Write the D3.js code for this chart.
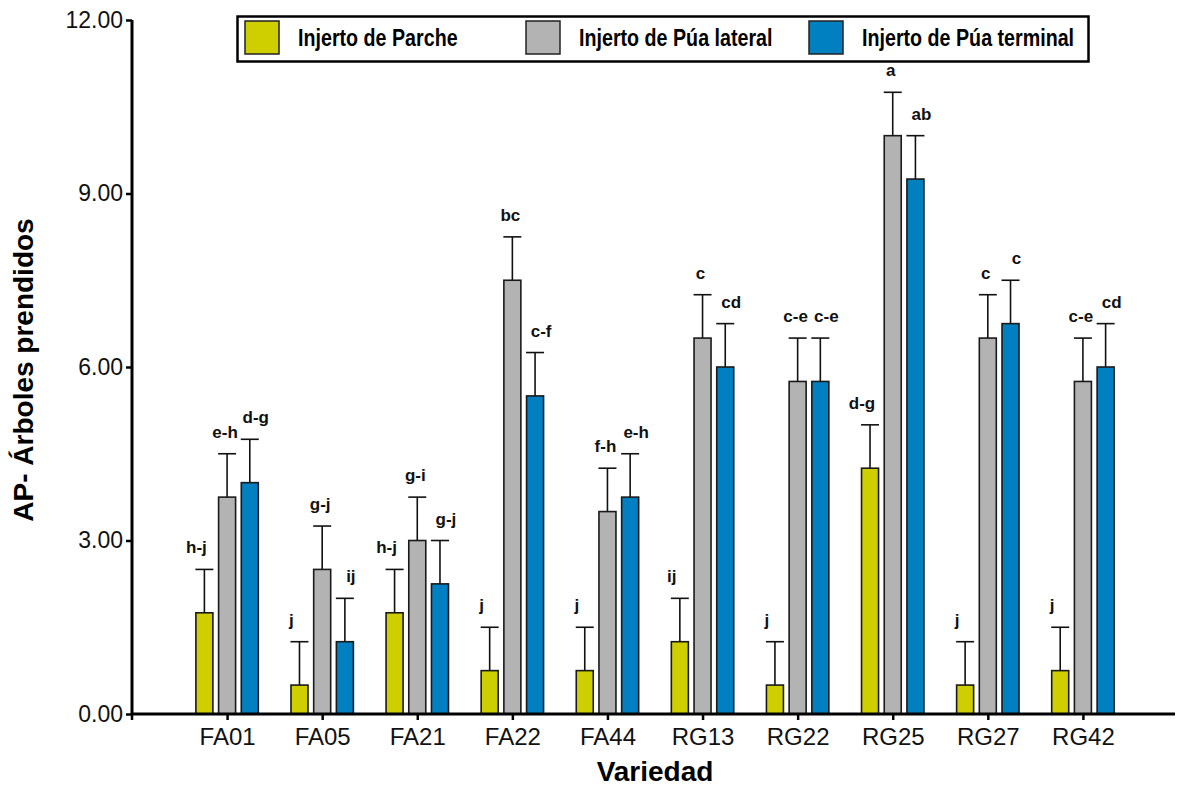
<!DOCTYPE html>
<html>
<head>
<meta charset="utf-8">
<script src="https://cdnjs.cloudflare.com/ajax/libs/d3/7.8.5/d3.min.js"></script>
<style>
  body { margin: 0; background: #fff; }
  text { font-family: "Liberation Sans", Arial, sans-serif; }
</style>
</head>
<body>
<div id="chart-area"></div>
<script>
// data
var categories = ['FA01','FA05','FA21','FA22','FA44','RG13','RG22','RG25','RG27','RG42'];
var seriesNames = ['Injerto de Parche','Injerto de Púa lateral','Injerto de Púa terminal'];

var parche   = [1.75, 0.5, 1.75, 0.75, 0.75, 1.25, 0.5, 4.25, 0.5, 0.75];
var lateral  = [3.75, 2.5, 3.0, 7.5, 3.5, 6.5, 5.75, 10.0, 6.5, 5.75];
var terminal = [4.0, 1.25, 2.25, 5.5, 3.75, 6.0, 5.75, 9.25, 6.75, 6.0];

var errParche   = [0.75, 0.75, 0.75, 0.75, 0.75, 0.75, 0.75, 0.75, 0.75, 0.75];
var errLateral  = [0.75, 0.75, 0.75, 0.75, 0.75, 0.75, 0.75, 0.75, 0.75, 0.75];
var errTerminal = [0.75, 0.75, 0.75, 0.75, 0.75, 0.75, 0.75, 0.75, 0.75, 0.75];

var lblParche   = ['h-j','j','h-j','j','j','ij','j','d-g','j','j'];
var lblLateral  = ['e-h','g-j','g-i','bc','f-h','c','c-e','a','c','c-e'];
var lblTerminal = ['d-g','ij','g-j','c-f','e-h','cd','c-e','ab','c','cd'];

var yTicks = [0, 3, 6, 9, 12];

var colors = ['#cfcf00','#b3b3b3','#0080c0'];

var svgWidth = 1181;
var svgHeight = 789;
var margin = {left:132, right:3, top:20, bottom:75};
var height = svgHeight - margin.top - margin.bottom;
var width = svgWidth - margin.left - margin.right;

var svg = d3.select('#chart-area')
  .append('svg')
  .attr('width', svgWidth)
  .attr('height', svgHeight);

var g = svg.append('g')
  .attr('transform', 'translate(' + margin.left + ',' + margin.top + ')');

var yScale = d3.scaleLinear().domain([0, 12]).range([height, 0]);

var xScale = d3.scalePoint()
  .domain(categories)
  .range([0, width])
  .padding(1);

var offset = d3.scalePoint()
  .domain([0, 1, 2])
  .range([-22.7, 22.7]);

// letters sit a bit left / right of their bar
var labelShift = [-8, -2, 6];

var barW = 17;

var series = [
  {vals: parche, errs: errParche, lbls: lblParche},
  {vals: lateral, errs: errLateral, lbls: lblLateral},
  {vals: terminal, errs: errTerminal, lbls: lblTerminal}
];

var rows = [];
series.forEach(function(s, si) {
  categories.forEach(function(c, i) {
    rows.push({cat: c, s: si, v: s.vals[i], e: s.errs[i], lbl: s.lbls[i]});
  });
});

function cx(d) { return xScale(d.cat) + offset(d.s); }

// error bars
var eb = g.append('g').selectAll('g').data(rows).enter().append('g');
eb.append('line')
  .attr('x1', cx).attr('x2', cx)
  .attr('y1', function(d) { return yScale(d.v); })
  .attr('y2', function(d) { return yScale(d.v + d.e); })
  .attr('stroke', '#111').attr('stroke-width', 1.6);
eb.append('line')
  .attr('x1', function(d) { return cx(d) - 9; })
  .attr('x2', function(d) { return cx(d) + 9; })
  .attr('y1', function(d) { return yScale(d.v + d.e); })
  .attr('y2', function(d) { return yScale(d.v + d.e); })
  .attr('stroke', '#111').attr('stroke-width', 1.6);

// bars
g.append('g').selectAll('rect').data(rows).enter()
  .append('rect')
  .attr('x', function(d) { return cx(d) - barW / 2; })
  .attr('y', function(d) { return yScale(d.v); })
  .attr('width', barW)
  .attr('height', function(d) { return height - yScale(d.v); })
  .attr('fill', function(d) { return colors[d.s]; })
  .attr('stroke', '#1a1a1a')
  .attr('stroke-width', 1.6);

// letters
g.append('g').selectAll('text').data(rows).enter()
  .append('text')
  .attr('x', function(d) { return cx(d) + labelShift[d.s]; })
  .attr('y', function(d) { return yScale(d.v + d.e) - 16; })
  .attr('text-anchor', 'middle')
  .attr('font-size', 17)
  .attr('font-weight', 'bold')
  .attr('fill', '#111')
  .text(function(d) { return d.lbl; });

// axes
var yAxis = d3.axisLeft(yScale)
  .tickValues(yTicks)
  .tickSize(6)
  .tickFormat(d3.format('.2f'));

var ya = g.append('g').call(yAxis);
ya.select('.domain').attr('d', 'M0,' + height + 'V0').attr('stroke-width', 3);
ya.selectAll('.tick line').attr('stroke-width', 2.5);
ya.selectAll('.tick text')
  .attr('font-size', 23)
  .attr('font-family', '"Liberation Sans", Arial, sans-serif')
  .attr('x', -9)
  .attr('fill', '#111');

var xAxis = d3.axisBottom(xScale).tickSize(6).tickSizeOuter(0);
var xa = g.append('g')
  .attr('transform', 'translate(0,' + height + ')')
  .call(xAxis);
xa.select('.domain').attr('d', 'M0,0H' + (width - 3)).attr('stroke-width', 3);
xa.selectAll('.tick line').attr('stroke-width', 2.5);
xa.selectAll('.tick text')
  .attr('font-size', 24)
  .attr('font-family', '"Liberation Sans", Arial, sans-serif')
  .attr('y', 14)
  .attr('fill', '#111');
xa.append('line')
  .attr('x1', 0).attr('x2', 0).attr('y1', 0).attr('y2', 6)
  .attr('stroke', '#000').attr('stroke-width', 2.5);

// axis titles
svg.append('text')
  .attr('x', margin.left + width / 2)
  .attr('y', 781)
  .attr('text-anchor', 'middle')
  .attr('font-size', 28)
  .attr('font-weight', 'bold')
  .text('Variedad');

svg.append('text')
  .attr('transform', 'translate(33,370) rotate(-90)')
  .attr('text-anchor', 'middle')
  .attr('font-size', 28)
  .attr('font-weight', 'bold')
  .text('AP- Árboles prendidos');

// legend (condensed bold text)
var legend = svg.append('g');
legend.append('rect')
  .attr('x', 237.5).attr('y', 16.5)
  .attr('width', 851).attr('height', 45)
  .attr('fill', '#fff').attr('stroke', '#000').attr('stroke-width', 2.5);

var legX = [245, 526, 809];
seriesNames.forEach(function(name, i) {
  legend.append('rect')
    .attr('x', legX[i]).attr('y', 21)
    .attr('width', 34).attr('height', 33)
    .attr('fill', colors[i]).attr('stroke', '#222').attr('stroke-width', 1.5);
  legend.append('text')
    .attr('transform', 'translate(' + (legX[i] + 53) + ',46) scale(0.82,1)')
    .attr('font-size', 24)
    .attr('font-weight', 'bold')
    .text(name);
});
</script>
</body>
</html>
